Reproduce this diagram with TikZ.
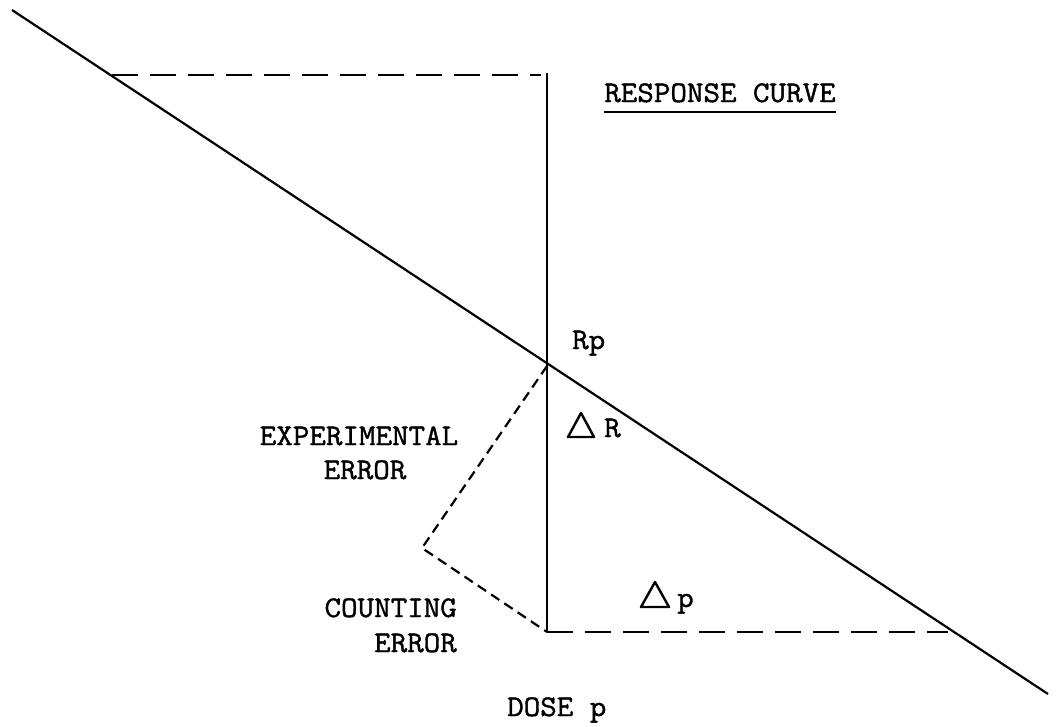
\documentclass[tikz,border=0pt]{standalone}
\usepackage{fontspec}
\setmonofont{Latin Modern Mono}[FakeStretch=1.07,FakeBold=1.3]
\usetikzlibrary{calc}
\tikzset{
  solidline/.style={line width=2.2pt},
  longdash/.style={line width=2.8pt, dash pattern=on 26pt off 12pt},
  shortdash/.style={line width=2.2pt, dash pattern=on 10pt off 6pt},
  label/.style={font=\fontsize{30}{34}\selectfont\ttfamily, inner sep=0pt},
  tri/.style={line width=2.4pt, line join=round}
}
\begin{document}
\begin{tikzpicture}[x=1pt,y=-1pt]
\useasboundingbox (0,0) rectangle (1058,726);
% key points
\coordinate (start) at (12,10);
\coordinate (stop) at (1048,694);
\coordinate (topleft) at (112,75);
\coordinate (topend) at (541,75);
\coordinate (vtop) at (547,73);
\coordinate (rp) at (547,366);
\coordinate (vbot) at (547,632);
\coordinate (botend) at (948,632);
\coordinate (corner) at (422,548);
% response curve
\draw[solidline] (start) -- (stop);
% vertical
\draw[solidline] (vtop) -- (vbot);
% dashed horizontals
\draw[longdash] (topleft) -- (topend);
\draw[longdash] (vbot) -- (botend);
% error dashes
\draw[shortdash] (rp) -- (corner) -- (vbot);
% triangles
\draw[tri] (568,437) -- (581,413) -- (594,437) -- cycle;
\draw[tri] (641,607) -- (655,582) -- (669,607) -- cycle;
% labels
\node[label, anchor=base] (resp) at (720,102) {RESPONSE CURVE};
\draw[line width=2.4pt] ([yshift=-10pt]resp.base west) -- ([yshift=-10pt]resp.base east);
\node[label, anchor=base west] (rplab) at (572,349) {Rp};
\node[label, anchor=base west] (dr) at (604,437) {R};
\node[label, anchor=base west] (dp) at (677,607) {p};
\node[label, anchor=base] (exp1) at (359,445) {EXPERIMENTAL};
\node[label, anchor=base] (exp2) at (365,479) {ERROR};
\node[label, anchor=base east] (cnt1) at (457,617) {COUNTING};
\node[label, anchor=base east] (cnt2) at (457,652) {ERROR};
\node[label, anchor=base west] (dose) at (507,716) {DOSE p};
\end{tikzpicture}
\end{document}
